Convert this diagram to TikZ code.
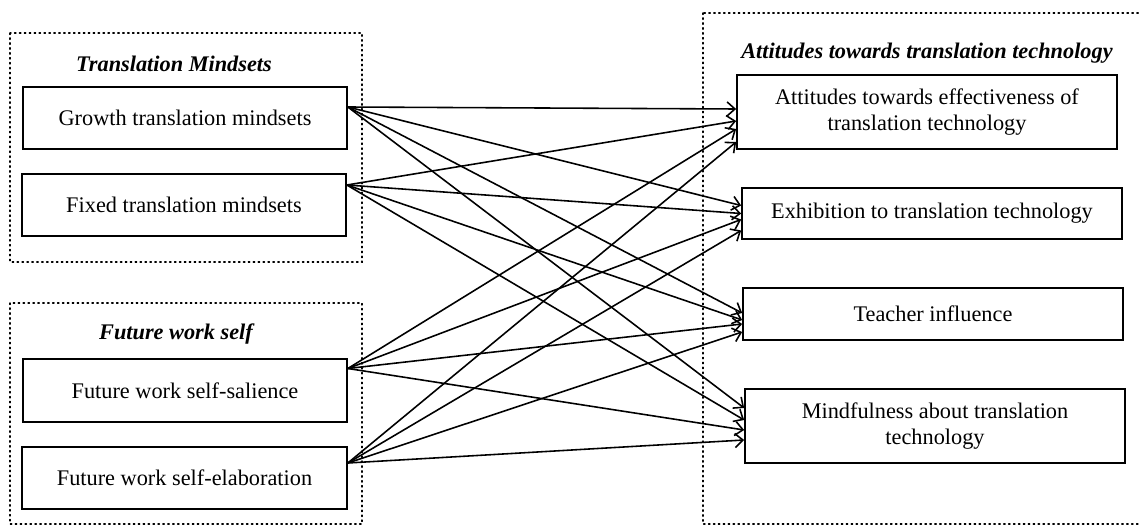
\documentclass[tikz,border=0pt]{standalone}
\usepackage{fontspec}
\setmainfont{Liberation Serif}
\usepackage{tikz}
\usetikzlibrary{calc}
\usetikzlibrary{arrows.meta}
\tikzstyle{VarNode}=[rectangle,draw,line width=1pt,inner sep=0pt,align=center,
font=\fontsize{12.7}{15}\selectfont]
\tikzstyle{GroupBox}=[dotted,thick,line cap=round]
\tikzstyle{GroupTitle}=[inner sep=0pt,font=\fontsize{12.7}{15}\selectfont\bfseries\itshape]
\tikzstyle{PathArrow}=[-{Straight Barb[length=4.5pt,width=8pt]},line width=0.9pt]

\begin{document}
\begin{tikzpicture}[x=0.02cm,y=-0.02cm]
        \useasboundingbox (0,0) rectangle (1140,527);
        % groups
        \draw[GroupBox](10,33)rectangle(362,262);
        \draw[GroupBox](10,303)rectangle(362,524);
        \draw[GroupBox](703,13)rectangle(1150,524);
        \node[GroupTitle](tmt)at(174,64){Translation Mindsets};
        \node[GroupTitle](fwt)at(176,334){Future work self};
        \node[GroupTitle](att)at(927,53){Attitudes towards translation technology};
        % predictors
        \node[VarNode,minimum width=6.48cm,minimum height=1.24cm](gm)at(185,118){Growth translation mindsets};
        \node[VarNode,minimum width=6.48cm,minimum height=1.24cm](fm)at(184,205){Fixed translation mindsets};
        \node[VarNode,minimum width=6.48cm,minimum height=1.26cm](fs)at(185,390.5){Future work self-salience};
        \node[VarNode,minimum width=6.5cm,minimum height=1.24cm](fe)at(184.5,478){Future work self-elaboration};
        % outcomes
        \node[VarNode,minimum width=7.6cm,minimum height=1.48cm](ae)at(927,112){Attitudes towards effectiveness of\\translation technology};
        \node[VarNode,minimum width=7.6cm,minimum height=1.02cm](ex)at(932,213.5){Exhibition to translation technology};
        \node[VarNode,minimum width=7.6cm,minimum height=1.04cm](ti)at(933,314){Teacher influence};
        \node[VarNode,minimum width=7.6cm,minimum height=1.48cm](mf)at(935,426){Mindfulness about translation\\technology};
        % paths
        \draw[PathArrow]($(gm.east)+(0,-11)$)--($(ae.west)+(0,-3)$);
        \draw[PathArrow]($(gm.east)+(0,-11)$)--($(ex.west)+(0,-8)$);
        \draw[PathArrow]($(gm.east)+(0,-11)$)--($(ti.west)+(0,-1)$);
        \draw[PathArrow]($(gm.east)+(0,-11)$)--($(mf.west)+(0,-18)$);
        \draw[PathArrow]($(fm.east)+(0,-20)$)--($(ae.west)+(0,9)$);
        \draw[PathArrow]($(fm.east)+(0,-20)$)--($(ex.west)+(0,0)$);
        \draw[PathArrow]($(fm.east)+(0,-20)$)--($(ti.west)+(0,6)$);
        \draw[PathArrow]($(fm.east)+(0,-20)$)--($(mf.west)+(0,-6)$);
        \draw[PathArrow]($(fs.east)+(0,-22)$)--($(ae.west)+(0,17)$);
        \draw[PathArrow]($(fs.east)+(0,-22)$)--($(ex.west)+(0,6)$);
        \draw[PathArrow]($(fs.east)+(0,-22)$)--($(ti.west)+(0,10)$);
        \draw[PathArrow]($(fs.east)+(0,-22)$)--($(mf.west)+(0,4)$);
        \draw[PathArrow]($(fe.east)+(0,-15)$)--($(ae.west)+(0,30)$);
        \draw[PathArrow]($(fe.east)+(0,-15)$)--($(ex.west)+(0,17)$);
        \draw[PathArrow]($(fe.east)+(0,-15)$)--($(ti.west)+(0,18)$);
        \draw[PathArrow]($(fe.east)+(0,-15)$)--($(mf.west)+(0,14)$);
\end{tikzpicture}
\end{document}
